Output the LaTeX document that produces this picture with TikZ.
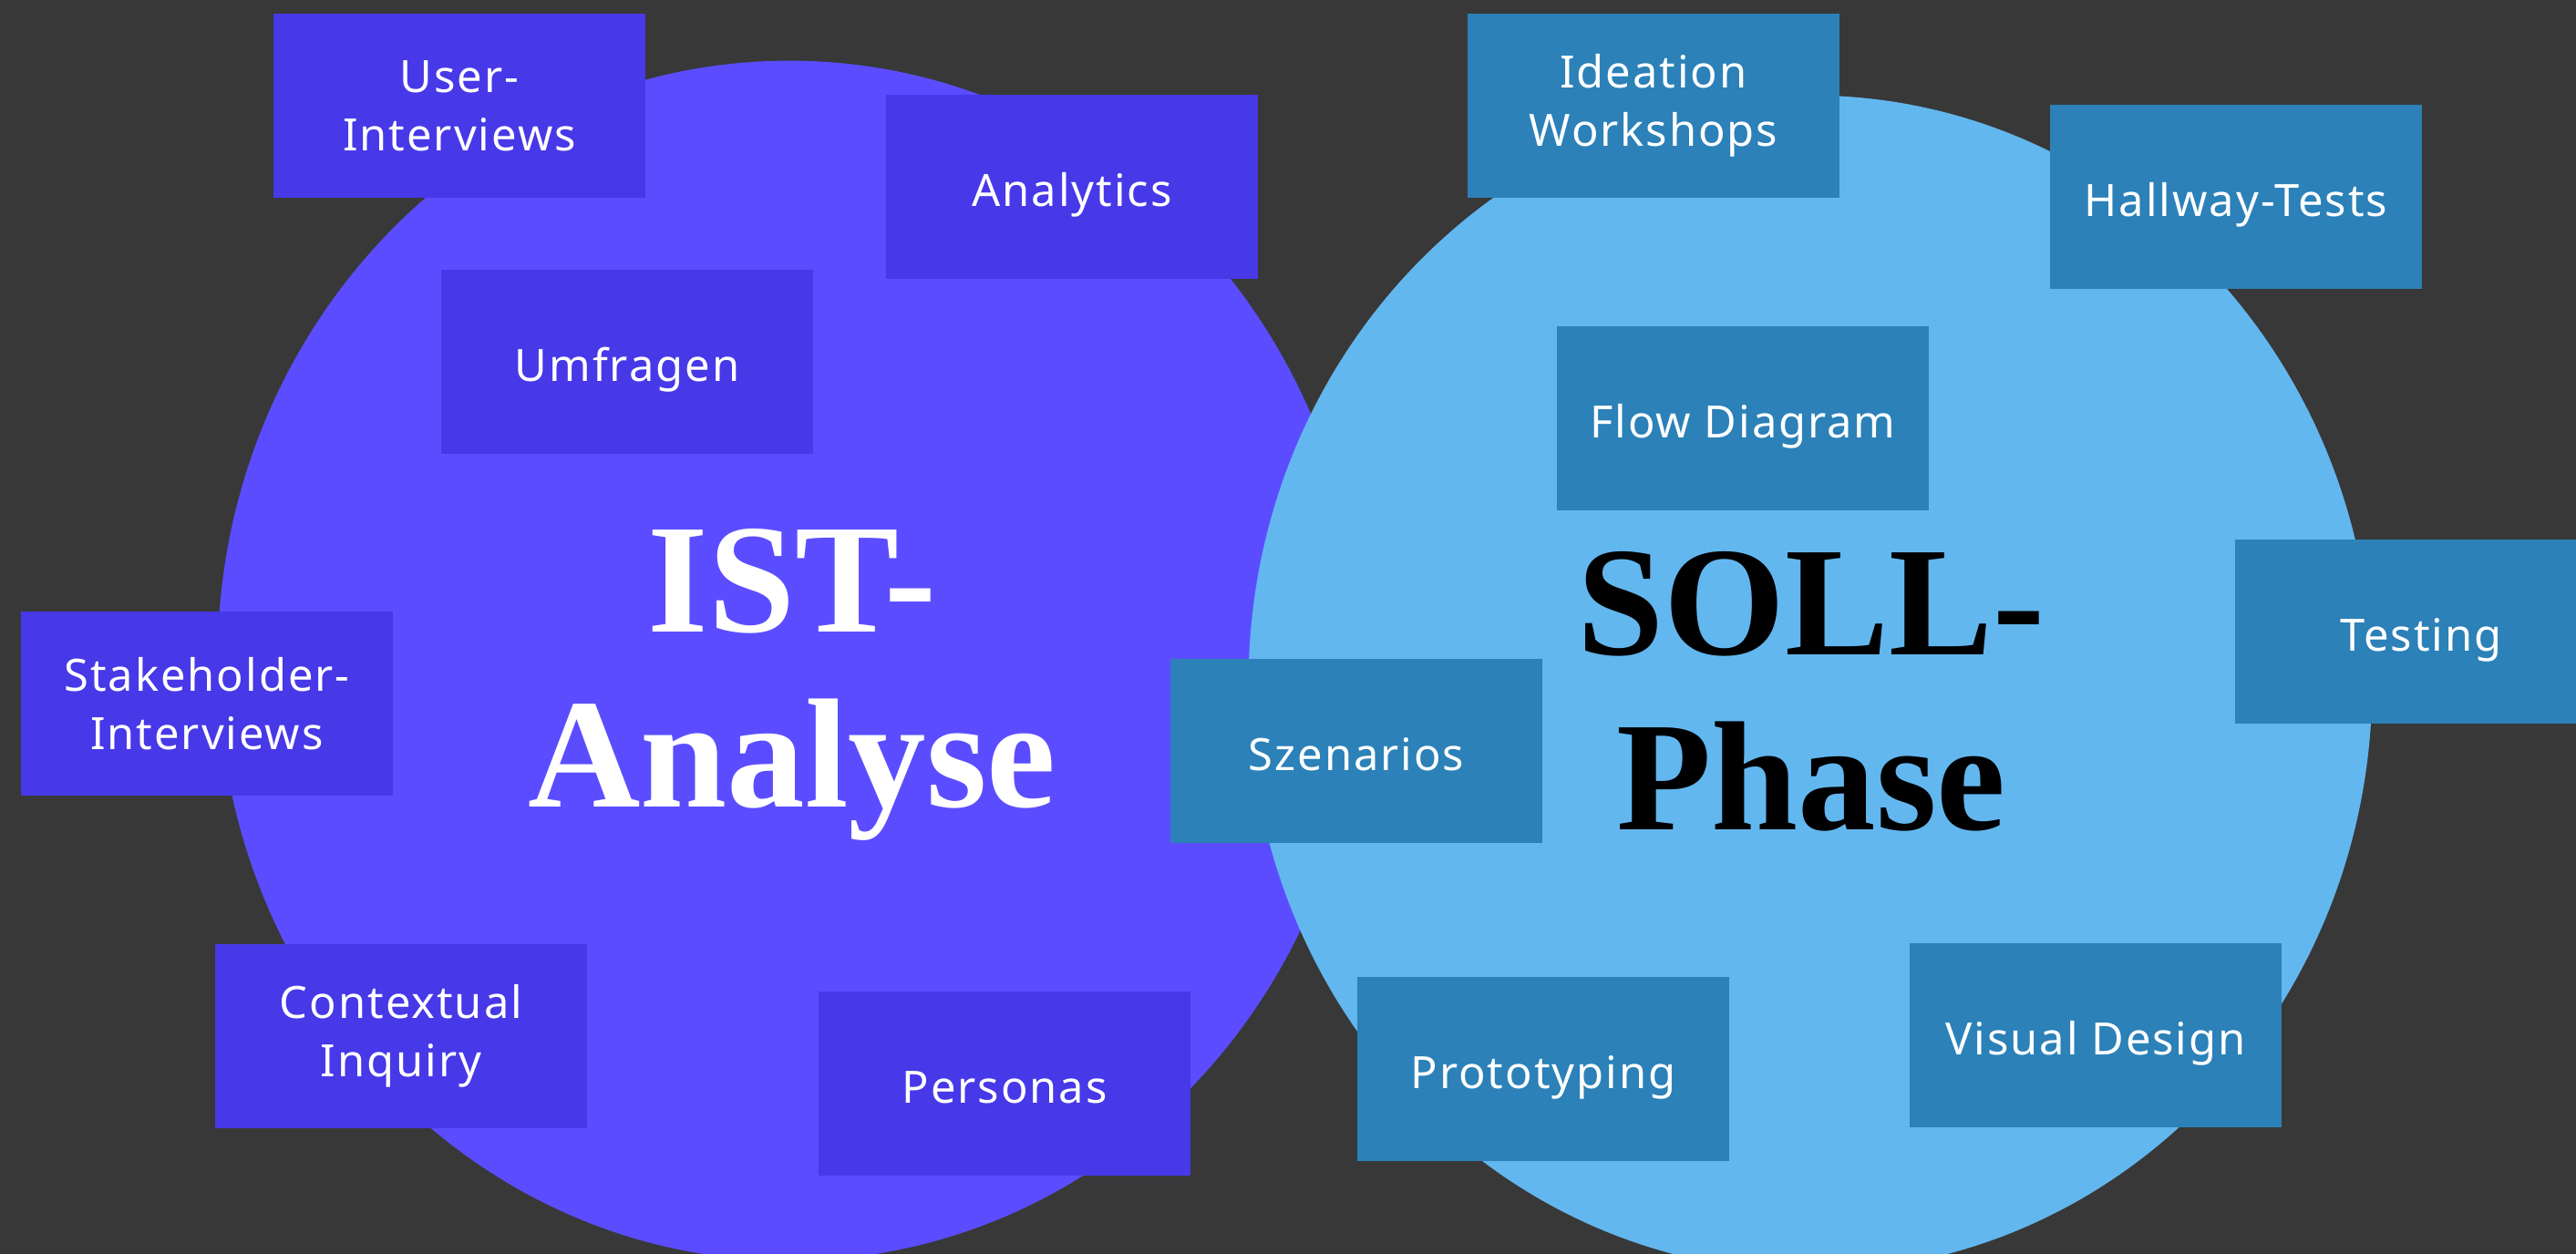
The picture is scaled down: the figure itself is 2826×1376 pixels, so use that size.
\documentclass[tikz,border=0pt]{standalone}
\usepackage{fontspec}
\usepackage{xcolor}
\setmainfont{Liberation Serif}
\newfontfamily\methodfont[LetterSpace=4]{Noto Sans}
\newfontfamily\phasefont{Liberation Serif}

\definecolor{bgdark}{HTML}{383838}
\definecolor{istcircle}{HTML}{5B4DFF}
\definecolor{istbox}{HTML}{4738E8}
\definecolor{sollcircle}{HTML}{63B7EF}
\definecolor{sollbox}{HTML}{2B81B8}

\begin{document}
\begin{tikzpicture}[x=0.01cm, y=-0.01cm,
    method/.style={rectangle, minimum width=4.07cm, minimum height=2.02cm, inner sep=0pt,
        text=white, align=center, font=\methodfont\fontsize{13.9}{18.2}\selectfont},
    oneline/.style={text height=0.42cm, text depth=0pt},
    istmethod/.style={method, fill=istbox},
    sollmethod/.style={method, fill=sollbox},
    phase/.style={align=center, inner sep=0pt, font=\phasefont\bfseries\fontsize{48.6}{54.6}\selectfont}]
        \useasboundingbox (0,0) rectangle (2826,1376);
        \fill[bgdark] (0,0) rectangle (2826,1376);

        % the two phases
        \fill[istcircle] (866,725) ellipse [x radius=6.27cm, y radius=6.58cm];
        \fill[sollcircle] (1986,750) ellipse [x radius=6.16cm, y radius=6.45cm];

        \node (ist) [phase, text=white] at (869,751) {IST-\\Analyse};
        \node (soll) [phase, text=black] at (1987,759) {SOLL-\\Phase};

        % methods of the IST-Analyse
        \node (userint) [istmethod] at (504,116) {User-\\Interviews};
        \node (analytics) [istmethod, oneline] at (1176,205) {Analytics};
        \node (umfragen) [istmethod, oneline] at (688,397) {Umfragen};
        \node (stakeint) [istmethod] at (227,772) {Stakeholder-\\Interviews};
        \node (context) [istmethod] at (440,1137) {Contextual\\Inquiry};
        \node (personas) [istmethod, oneline] at (1102,1189) {Personas};

        % methods of the SOLL-Phase
        \node (ideation) [sollmethod] at (1814,116) {Ideation\\Workshops};
        \node (hallway) [sollmethod, oneline] at (2453,216) {Hallway-Tests};
        \node (flow) [sollmethod, oneline] at (1912,459) {Flow Diagram};
        \node (testing) [sollmethod, oneline] at (2656,693) {Testing};
        \node (szenarios) [sollmethod, oneline] at (1488,824) {Szenarios};
        \node (proto) [sollmethod, oneline] at (1693,1173) {Prototyping};
        \node (visual) [sollmethod, oneline] at (2299,1136) {Visual Design};
    \end{tikzpicture}
\end{document}
